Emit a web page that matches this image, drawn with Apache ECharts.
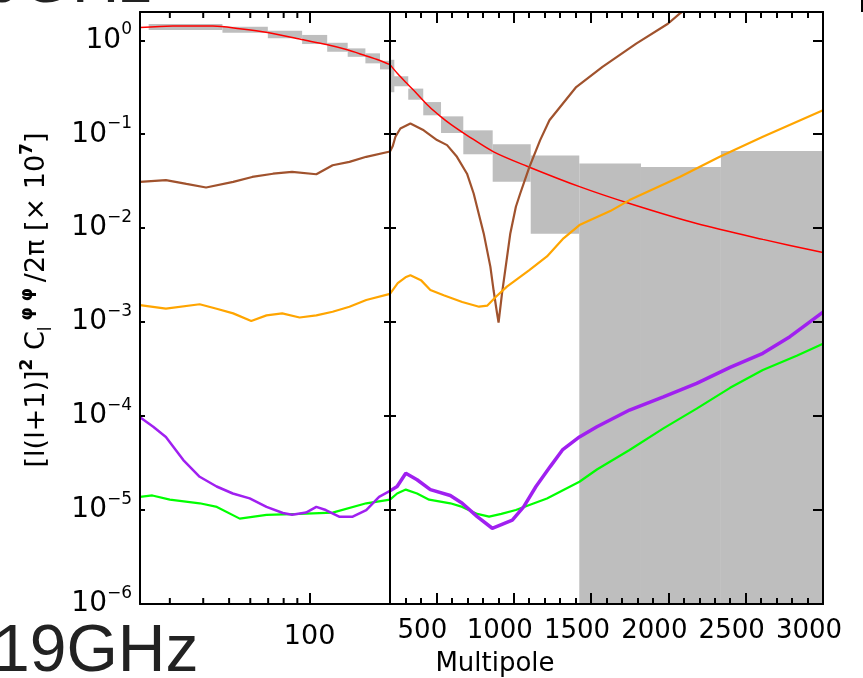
<!DOCTYPE html>
<html><head><meta charset="utf-8">
<script src="https://cdn.jsdelivr.net/npm/echarts@6/dist/echarts.min.js"></script>
<style>html,body{margin:0;padding:0;background:#fff;overflow:hidden}#c{width:863px;height:678px}</style>
</head><body><div id="c"></div>
<script>
// ---- data (multipole l, value) ----
const redLeft = [[23.2,1.365],[30.8,1.42],[43.5,1.42],[54.8,1.33],[69.7,1.21],[93.4,1.017],[115.7,0.90],[137.4,0.796],[160.4,0.692],[182.4,0.613],[200,0.551]];
const redRight = [[200,0.551],[250,0.44],[300,0.36],[353,0.294],[453,0.197],[526,0.155],[600,0.125],[698,0.0975],[870,0.065],[1086,0.0457],[1430,0.0275],[1749,0.0183],[2183,0.0112],[2611,0.0076],[3000,0.0055]];
const brownLeft = [[23.2,0.0311],[29,0.0325],[34.6,0.0296],[41,0.0271],[51.8,0.0311],[61,0.0351],[73,0.038],[86,0.0398],[106,0.0375],[122,0.0468],[141,0.0508],[163,0.0575],[200,0.0655]];
const brownRight = [[200,0.0655],[218,0.075],[235,0.094],[267,0.115],[332,0.13],[418,0.11],[504,0.0866],[569,0.0766],[633,0.0575],[698,0.038],[741,0.0234],[784,0.0122],[806,0.0088],[849,0.0039],[870,0.00217],[892,0.00125],[902,0.00099],[924,0.002],[978,0.0088],[1014,0.0169],[1042,0.0234],[1101,0.0447],[1171,0.0866],[1231,0.141],[1404,0.318],[1574,0.52],[1792,0.92],[1997,1.5],[2073,1.92],[2200,2.7]];
const orangeLeft = [[23.2,0.00152],[29,0.00139],[38.8,0.00155],[44.9,0.00139],[51.8,0.00124],[60.5,0.00103],[69,0.00118],[79,0.00124],[91.8,0.00112],[106,0.00118],[122,0.00129],[141,0.00146],[163,0.00172],[200,0.002]];
const orangeRight = [[200,0.002],[250,0.0026],[300,0.003],[332,0.00316],[400,0.0028],[461,0.0022],[547,0.00193],[667,0.00164],[776,0.00146],[830,0.0015],[885,0.00186],[956,0.00239],[1101,0.00357],[1215,0.005],[1322,0.0078],[1425,0.0108],[1624,0.0152],[1749,0.0199],[2073,0.0351],[2332,0.0575],[2611,0.094],[3000,0.18]];
const purpleLeft = [[23.2,9.7e-5],[26,7.7e-5],[29,6.0e-5],[33.7,3.4e-5],[38.8,2.26e-5],[44.9,1.78e-5],[51.6,1.5e-5],[59.7,1.33e-5],[69,1.08e-5],[79.5,9.3e-6],[86,8.9e-6],[97,9.4e-6],[106,1.08e-5],[115,1.0e-5],[129,8.5e-6],[145,8.5e-6],[163,1.0e-5],[182,1.38e-5],[200,1.6e-5]];
const purpleRight = [[200,1.6e-5],[246,1.78e-5],[302,2.46e-5],[375,2.1e-5],[461,1.65e-5],[590,1.43e-5],[667,1.18e-5],[764,8.5e-6],[861,6.4e-6],[991,7.8e-6],[1064,1.08e-5],[1144,1.78e-5],[1236,2.9e-5],[1315,4.36e-5],[1425,6.0e-5],[1538,7.7e-5],[1749,1.16e-4],[1968,1.6e-4],[2183,2.23e-4],[2399,3.3e-4],[2611,4.66e-4],[2786,7.0e-4],[3000,1.28e-3]];
const greenLeft = [[23.2,1.38e-5],[25.8,1.43e-5],[30,1.29e-5],[38.8,1.18e-5],[45,1.08e-5],[54.8,8.1e-6],[69,8.9e-6],[91.8,9.1e-6],[122,9.4e-6],[163,1.18e-5],[200,1.29e-5]];
const greenRight = [[200,1.29e-5],[246,1.5e-5],[302,1.65e-5],[375,1.5e-5],[453,1.29e-5],[590,1.18e-5],[667,1.08e-5],[764,9.1e-6],[841,8.5e-6],[920,9.1e-6],[1014,1.0e-5],[1215,1.33e-5],[1425,2.0e-5],[1538,2.7e-5],[1749,4.36e-5],[1968,7.4e-5],[2183,1.2e-4],[2399,2.0e-4],[2611,3.1e-4],[2830,4.4e-4],[3000,5.9e-4]];
// error boxes: [l_min, l_max, low, high]
const boxesLeft = [[25,47.2,1.29,1.49],[47.2,69.8,1.20,1.39],[69.8,93.8,1.05,1.26],[93.8,116.4,0.912,1.14],[116.4,138.9,0.755,0.941],[138.9,161.8,0.667,0.82],[161.8,183.5,0.568,0.726],[183.5,200,0.49,0.605]];
const boxesRight = [[200,228,0.28,0.62],[215,318,0.324,0.414],[318,415,0.233,0.306],[415,530,0.159,0.22],[530,674,0.103,0.155],[674,864,0.0612,0.110],[864,1110,0.0312,0.0783],[1110,1424,0.00875,0.0594],[1424,1823,1e-8,0.0488],[1823,2340,1e-8,0.0449],[2340,3000,1e-8,0.0664]];
// ticks
const xMinorLeft = [30,40,50,60,70,80,90];
const xMajorLeft = [100];
const xTicksRight = [500,1000,1500,2000,2500,3000];

const FONT = 'DejaVu Sans';
const chart = echarts.init(document.getElementById('c'), null, {renderer:'canvas'});

const line = (w) => ({show:true, onZero:false, lineStyle:{color:'#000', width:w}});
function yAx(grid, pos, len, labels) {
  return {type:'log', logBase:10, gridIndex:grid, position:pos, min:1e-6, max:2, z:10,
    axisLine: line(2), splitLine:{show:false}, minorTick:{show:false},
    axisTick:{show:true, inside:true, length:len, lineStyle:{color:'#000', width:2}},
    axisLabel: labels ? {show:true, margin:8, color:'#000',
      formatter: v => { const lg = Math.log10(v), e = Math.round(lg);
        if (Math.abs(lg - e) > 1e-6) return '';
        return '{b|10}{s|' + (e < 0 ? '\u2212' + (-e) : e) + '}'; },
      rich:{ b:{fontFamily:FONT, fontSize:28, lineHeight:38, color:'#000'},
             s:{fontFamily:FONT, fontSize:17, lineHeight:17, verticalAlign:'top', color:'#000'} } }
      : {show:false}};
}
function xLog(pos, labels) {
  return {type:'log', logBase:10, gridIndex:0, position:pos, min:23.2, max:200, z:10,
    axisLine: line(2), splitLine:{show:false}, minorTick:{show:false},
    axisTick:{show:true, inside:true, length:11, lineStyle:{color:'#000', width:2}},
    axisLabel: labels ? {show:true, margin:19, color:'#000', fontFamily:FONT, fontSize:27,
      formatter: v => xMajorLeft.some(m => Math.abs(v - m) < 1e-6) ? String(Math.round(v)) : ''} : {show:false}};
}
function xLin(pos, major, labels) {
  const ax = {type:'value', gridIndex:1, position:pos, min:200, max:3000, z:10,
    axisLine: line(2), splitLine:{show:false},
    axisTick:{show:true, inside:true, length: major ? 11 : 6, lineStyle:{color:'#000', width:2}},
    axisLabel:{show:false}};
  if (major) {
    ax.axisTick.customValues = xTicksRight;
    ax.axisLabel = labels ? {show:true, customValues:xTicksRight, margin:14, color:'#000',
      fontFamily:FONT, fontSize:26, padding:[0,28,0,0], formatter: v => String(v)} : {show:false};
  } else { ax.interval = 100; }
  return ax;
}
function renderBox(params, api) {
  const p0 = api.coord([api.value(0), api.value(3)]);
  const p1 = api.coord([api.value(1), api.value(2)]);
  return {type:'rect', shape:{x:p0[0], y:p0[1], width:p1[0]-p0[0], height:p1[1]-p0[1]},
    style:{fill:'#bebebe'}};
}
function renderMinorTick(params, api) {
  const b = api.coord([api.value(0), 1e-6]);
  const t = api.coord([api.value(0), 2]);
  return {type:'group', children:[
    {type:'line', shape:{x1:b[0], y1:b[1], x2:b[0], y2:b[1]-6}, style:{stroke:'#000', lineWidth:2}},
    {type:'line', shape:{x1:t[0], y1:t[1], x2:t[0], y2:t[1]+6}, style:{stroke:'#000', lineWidth:2}}]};
}
function ln(data, color, w, xi, yi, smooth) {
  return {type:'line', data, xAxisIndex:xi, yAxisIndex:yi, showSymbol:false, symbol:'none',
    smooth: smooth || false, clip:true, z:3, lineStyle:{color, width:w}, silent:true, animation:false};
}
const C = {red:'#ff0000', brown:'#a0522d', orange:'#ffa500', purple:'#a020f0', green:'#00ff00'};

chart.setOption({
  animation:false,
  backgroundColor:'#fff',
  grid:[
    {left:140, top:12, width:250, height:592, outerBoundsMode:'none'},
    {left:390, top:12, width:433, height:592, outerBoundsMode:'none'}
  ],
  xAxis:[ xLog('bottom', true), xLog('top', false),
          xLin('bottom', false, false), xLin('bottom', true, true),
          xLin('top', false, false), xLin('top', true, false) ],
  yAxis:[ yAx(0,'left',5,true), yAx(0,'right',6,false), yAx(1,'left',6,false), yAx(1,'right',10,false) ],
  series:[
    {type:'custom', renderItem:renderBox, data:boxesLeft, xAxisIndex:0, yAxisIndex:0, clip:true, z:1, silent:true, encode:{x:[0,1], y:[2,3]}},
    {type:'custom', renderItem:renderBox, data:boxesRight, xAxisIndex:2, yAxisIndex:2, clip:true, z:1, silent:true, encode:{x:[0,1], y:[2,3]}},
    ln(redLeft, C.red, 1.5, 0, 0, 0.3), ln(redRight, C.red, 1.5, 2, 2, 0.3),
    ln(brownLeft, C.brown, 2.2, 0, 0), ln(brownRight, C.brown, 2.2, 2, 2),
    ln(orangeLeft, C.orange, 2.2, 0, 0), ln(orangeRight, C.orange, 2.2, 2, 2),
    ln(greenLeft, C.green, 2.2, 0, 0), ln(greenRight, C.green, 2.2, 2, 2),
    ln(purpleLeft, C.purple, 2.5, 0, 0), ln(purpleRight, C.purple, 3.5, 2, 2),
    {type:'custom', renderItem:renderMinorTick, data:xMinorLeft.map(v => [v, 1e-6]), xAxisIndex:0, yAxisIndex:0, clip:false, z:11, silent:true, encode:{x:0, y:1}}
  ],
  graphic:[
    {type:'text', x:37, y:300, rotation:Math.PI/2, style:{
      text:'{m|[l(l+1)]}{p|2}{m| C}{b|l}{p| \u03c6 \u03c6 }{m|/2\u03c0 [\u00d7 10}{p|7}{m|]}',
      align:'center', verticalAlign:'middle',
      rich:{ m:{fontFamily:FONT, fontSize:27, lineHeight:36, fill:'#000'},
             p:{fontFamily:FONT, fontSize:17, fontWeight:'bold', lineHeight:17, verticalAlign:'top', fill:'#000'},
             b:{fontFamily:FONT, fontSize:17, lineHeight:17, verticalAlign:'bottom', fill:'#000'} } }},
    {type:'text', x:495, y:664, style:{text:'Multipole', font:'26px "DejaVu Sans"', fill:'#000', align:'center', verticalAlign:'middle'}},
    {type:'text', x:-7, y:653, style:{text:'19GHz', font:'66px "Liberation Sans"', fill:'#222', align:'left', verticalAlign:'middle'}},
    {type:'text', x:-53, y:-16, style:{text:'30GHz', font:'66px "Liberation Sans"', fill:'#222', align:'left', verticalAlign:'middle'}},
    {type:'rect', shape:{x:861, y:0, width:2, height:12}, style:{fill:'#000'}}
  ]
});
</script></body></html>
